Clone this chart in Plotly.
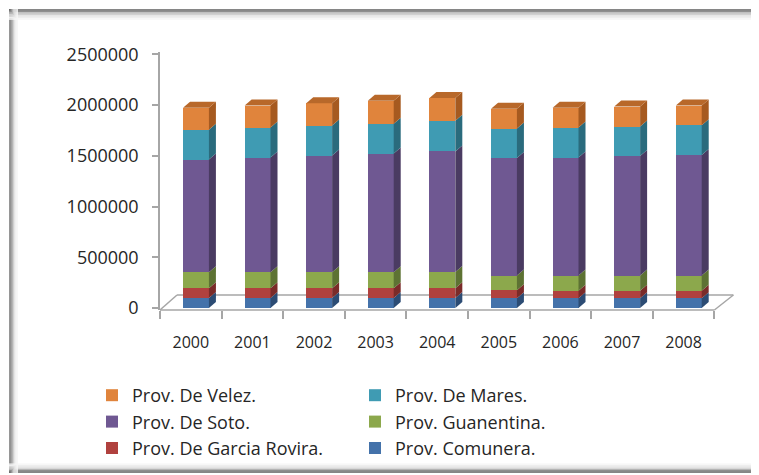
import plotly.graph_objects as go

# ---- data ----
years = ["2000", "2001", "2002", "2003", "2004", "2005", "2006", "2007", "2008"]
comunera = [98000, 98000, 98000, 98000, 98000, 95000, 95000, 95000, 95000]
garcia_rovira = [96000, 96000, 96000, 96000, 96000, 79000, 76000, 76000, 76000]
guanentina = [158000, 158000, 158000, 158000, 160000, 145000, 148000, 148000, 148000]
soto = [1110000, 1130000, 1150000, 1169000, 1189000, 1160000, 1163000, 1179000, 1189000]
mares = [293000, 296000, 296000, 293000, 302000, 289000, 296000, 289000, 293000]
velez = [217000, 217000, 220000, 227000, 224000, 194000, 194000, 197000, 194000]

series = [
    ("Prov. Comunera.", comunera, "#4472AA", "#2C4C74"),
    ("Prov. De Garcia Rovira.", garcia_rovira, "#B0413E", "#7A2B29"),
    ("Prov. Guanentina.", guanentina, "#8CA84C", "#5D7233"),
    ("Prov. De Soto.", soto, "#6F5892", "#4A3B62"),
    ("Prov. De Mares.", mares, "#3F9BB3", "#2A6B7D"),
    ("Prov. De Velez.", velez, "#E0843C", "#A65A20"),
]
top_face_color = "#B8682A"

# ---- layout geometry (page body adds an 8px margin) ----
OFF = 8
W, H = 759 - OFF, 475 - OFF
ML, MR, MT, MB = 160 - OFF, 24, 52 - OFF, 165
plot_w = W - ML - MR
plot_h = H - MT - MB
cat_px = 61.6
x_range = [-0.5, -0.5 + plot_w / cat_px]
val_per_px = 9852.0
y_bottom = -2 * val_per_px
y_range = [y_bottom, y_bottom + plot_h * val_per_px]

bar_w = 0.42
bar_off = -0.126
dx = 7 / cat_px            # 3D depth, x units
dy = 6 * val_per_px        # 3D depth, y units

xs = list(range(len(years)))

fig = go.Figure()
for name, vals, col, _ in series:
    fig.add_trace(go.Bar(
        x=xs, y=vals, name=name, marker=dict(color=col, line=dict(width=0)),
        width=bar_w, offset=bar_off,
    ))

shapes = []
# 3D side and top faces computed from the stacked data
base = [0.0] * len(years)
for si, (name, vals, col, side) in enumerate(series):
    for i, v in enumerate(vals):
        b = base[i]
        t = b + v
        right = xs[i] + bar_off + bar_w
        left = xs[i] + bar_off
        shapes.append(dict(
            type="path", xref="x", yref="y", layer="above",
            path=f"M{right},{b} L{right + dx},{b + dy} L{right + dx},{t + dy} L{right},{t} Z",
            fillcolor=side, line=dict(width=0),
        ))
        if si == len(series) - 1:
            shapes.append(dict(
                type="path", xref="x", yref="y", layer="above",
                path=f"M{left},{t} L{left + dx},{t + dy} L{right + dx},{t + dy} L{right},{t} Z",
                fillcolor=top_face_color, line=dict(width=0),
            ))
        base[i] = t

# floor outline
floor_dy = 15 / plot_h
ldx = 17 / cat_px
rdx = 19 / cat_px
floor_col = "#A6A6A6"
n = len(years)
for (x0, y0, x1, y1) in [
    (-0.5, 0, n - 0.5, 0),
    (-0.5, 0, -0.5 + ldx, floor_dy),
    (-0.5 + ldx, floor_dy, n - 0.5 + rdx, floor_dy),
    (n - 0.5, 0, n - 0.5 + rdx, floor_dy),
]:
    shapes.append(dict(type="line", xref="x", yref="paper", x0=x0, y0=y0, x1=x1, y1=y1,
                       line=dict(color=floor_col, width=1.5), layer="below"))


def px(p):
    """screen pixel x -> paper"""
    return (p - OFF - ML) / plot_w


def py(p):
    """screen pixel y -> paper"""
    return (H - MB - (p - OFF)) / plot_h


# frame with soft shadow
grad = ["#5e5e5e", "#8e8e8e", "#b4b4b4", "#d0d0d0", "#e2e2e2", "#eeeeee", "#f6f6f6"]
for k, c in enumerate(grad):
    shapes.append(dict(type="line", xref="paper", yref="paper",
                       x0=px(9), x1=px(757), y0=py(10 + k * 1.5), y1=py(10 + k * 1.5),
                       line=dict(color=c, width=1.6), layer="below"))
    shapes.append(dict(type="line", xref="paper", yref="paper",
                       x0=px(10 + k * 1.2), x1=px(10 + k * 1.2), y0=py(9), y1=py(473),
                       line=dict(color=c, width=1.3), layer="below"))
    shapes.append(dict(type="line", xref="paper", yref="paper",
                       x0=px(9), x1=px(757), y0=py(472 - k * 1.3), y1=py(472 - k * 1.3),
                       line=dict(color=c, width=1.3), layer="below"))
for k, c in enumerate(["#e0e0e0", "#ececec", "#f4f4f4"]):
    shapes.append(dict(type="line", xref="paper", yref="paper",
                       x0=px(757 - k * 1.5), x1=px(757 - k * 1.5), y0=py(9), y1=py(473),
                       line=dict(color=c, width=1.5), layer="below"))

fig.update_layout(
    width=W, height=H,
    margin=dict(l=ML, r=MR, t=MT, b=MB, autoexpand=False),
    paper_bgcolor="white", plot_bgcolor="rgba(0,0,0,0)",
    barmode="stack",
    shapes=shapes,
    font=dict(family="Open Sans, Noto Sans, sans-serif", color="#262626"),
    showlegend=True,
    legend=dict(
        orientation="h", traceorder="reversed",
        x=px(92), xanchor="left", y=py(377), yanchor="top",
        entrywidth=218, entrywidthmode="pixels",
        font=dict(size=18, color="#262626"),
        bgcolor="rgba(0,0,0,0)",
    ),
    xaxis=dict(
        range=x_range, tickmode="array", tickvals=xs, ticktext=years,
        showgrid=False, zeroline=False, showline=False, ticks="",
        tickfont=dict(size=16), ticklabelstandoff=21,
        minor=dict(tick0=-0.5, dtick=1, ticks="outside", ticklen=8,
                   tickcolor=floor_col, tickwidth=1.5, showgrid=False),
    ),
    yaxis=dict(
        range=y_range, tickmode="linear", tick0=0, dtick=500000, tickformat="d",
        showgrid=False, zeroline=False, showline=True, linecolor=floor_col, linewidth=1.5,
        ticks="outside", ticklen=6, tickcolor=floor_col, tickwidth=1.5,
        tickfont=dict(size=18), ticklabelstandoff=10,
    ),
)

fig.write_html("out.html")
